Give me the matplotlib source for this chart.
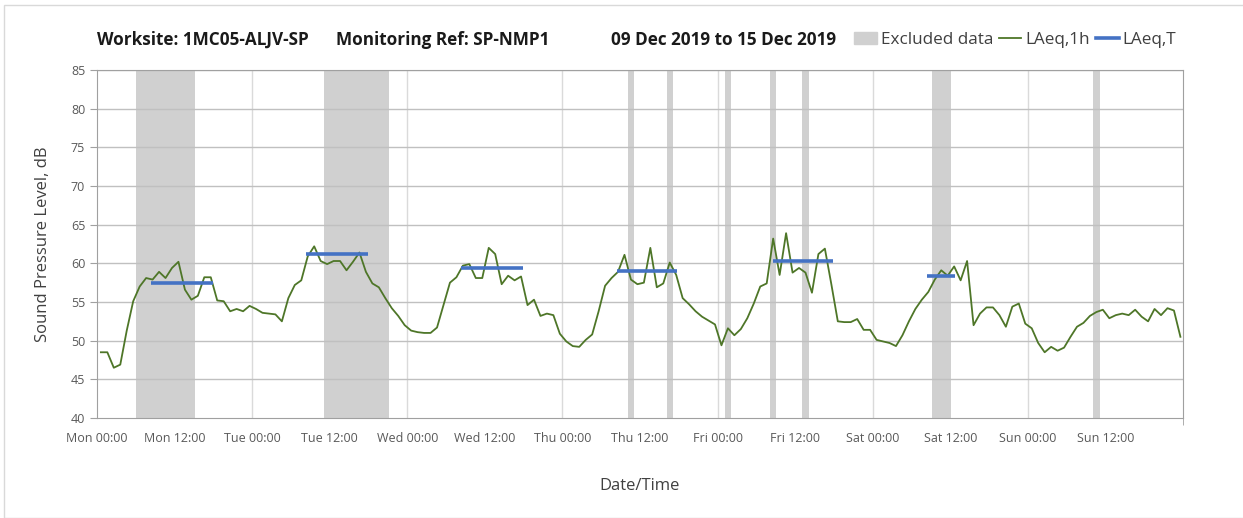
import numpy as np
import matplotlib.pyplot as plt
from matplotlib.patches import Patch, Rectangle
from matplotlib.lines import Line2D

plt.rcParams['font.family'] = ['Open Sans', 'DejaVu Sans']

# Hourly LAeq,1h (dB), Mon 00:00 .. Sun 23:00
laeq_1h = [
    48.5, 48.5, 46.5, 46.9, 51.3, 55.1, 57.0, 58.1, 57.9, 58.9, 58.1, 59.4,  # Mon
    60.2, 56.6, 55.3, 55.8, 58.2, 58.2, 55.2, 55.1, 53.8, 54.1, 53.8, 54.5,
    54.1, 53.6, 53.5, 53.4, 52.5, 55.5, 57.2, 57.8, 60.9, 62.2, 60.3, 59.9,  # Tue
    60.3, 60.3, 59.1, 60.2, 61.4, 58.9, 57.4, 56.9, 55.5, 54.2, 53.2, 52.0,
    51.3, 51.1, 51.0, 51.0, 51.7, 54.6, 57.5, 58.2, 59.7, 59.9, 58.1, 58.1,  # Wed
    62.0, 61.2, 57.3, 58.4, 57.8, 58.3, 54.6, 55.3, 53.2, 53.5, 53.3, 50.9,
    49.9, 49.3, 49.2, 50.1, 50.8, 53.8, 57.1, 58.1, 58.9, 61.1, 57.9, 57.3,  # Thu
    57.5, 62.0, 56.9, 57.4, 60.1, 58.5, 55.5, 54.7, 53.8, 53.1, 52.6, 52.1,
    49.4, 51.6, 50.7, 51.5, 52.9, 54.8, 57.0, 57.4, 63.2, 58.5, 63.9, 58.8,  # Fri
    59.4, 58.8, 56.2, 61.2, 61.9, 57.3, 52.5, 52.4, 52.4, 52.8, 51.4, 51.4,
    50.1, 49.9, 49.7, 49.3, 50.7, 52.5, 54.1, 55.3, 56.3, 57.9, 59.1, 58.4,  # Sat
    59.6, 57.8, 60.3, 52.0, 53.5, 54.3, 54.3, 53.3, 51.8, 54.4, 54.8, 52.2,
    51.6, 49.7, 48.5, 49.2, 48.7, 49.1, 50.5, 51.8, 52.3, 53.2, 53.7, 54.0,  # Sun
    52.9, 53.3, 53.5, 53.3, 54.0, 53.1, 52.5, 54.1, 53.3, 54.2, 53.9, 50.5,
]

# hours (from Mon 00:00) flagged as excluded
excluded_hours = [6, 7, 8, 9, 10, 11, 12, 13, 14,
                  35, 36, 37, 38, 39, 40, 41, 42, 43, 44,
                  82, 88, 97, 104, 109, 129, 130, 131, 154]

# LAeq,T periods (start/end hour) and levels
laeq_t_start = [8.4, 32.4, 56.3, 80.4, 104.5, 128.4]
laeq_t_end = [17.9, 41.9, 65.9, 89.8, 113.8, 132.8]
laeq_t = [57.5, 61.2, 59.4, 59.05, 60.35, 58.3]

days = ['Mon', 'Tue', 'Wed', 'Thu', 'Fri', 'Sat', 'Sun']
tick_labels = [f'{d} {t}' for d in days for t in ('00:00', '12:00')]

hours = np.arange(len(laeq_1h)) + 0.6  # hour-ending sample position

fig = plt.figure(figsize=(12.43, 5.18), dpi=100)
ax = fig.add_axes([97 / 1243, 1 - 418 / 518, (1183 - 97) / 1243, (418 - 70) / 518])

ax.bar(np.array(excluded_hours) + 0.6, [45] * len(excluded_hours), width=1.0,
       bottom=40, color='#d0d0d0', zorder=1)
ax.plot(hours, laeq_1h, color='#4e7628', lw=1.3, zorder=3)
ax.hlines(laeq_t, laeq_t_start, laeq_t_end, color='#4472c4', lw=2.6, zorder=4)

ax.set_xlim(0, 168)
ax.set_ylim(40, 85)
ax.set_yticks(range(40, 86, 5))
ax.set_xticks(range(0, 168, 12))
ax.set_xticklabels(tick_labels)
ax.set_xticks(range(0, 169, 12), minor=True)
ax.tick_params(axis='x', which='major', length=0, labelsize=9, colors='#595959', pad=10)
ax.tick_params(axis='x', which='minor', length=5, color='#a0a0a0', direction='out')
ax.tick_params(axis='y', length=5, color='#a0a0a0', labelsize=9, colors='#595959')
for y in range(45, 86, 5):
    ax.axhline(y, color='#c0c0c0', lw=1.0, zorder=2)
for x in range(24, 168, 24):
    ax.axvline(x, color='#dadada', lw=1.0, zorder=0.5)
for s in ax.spines.values():
    s.set_color('#a0a0a0')

ax.set_ylabel('Sound Pressure Level, dB', fontsize=12, color='#404040', labelpad=14)
ax.set_xlabel('Date/Time', fontsize=12, color='#404040', labelpad=24)

ty = 1 - 40 / 518
fig.text(97 / 1243, ty, 'Worksite: 1MC05-ALJV-SP', fontsize=12.3, fontweight='bold', va='center', color='#1a1a1a')
fig.text(336 / 1243, ty, 'Monitoring Ref: SP-NMP1', fontsize=12.3, fontweight='bold', va='center', color='#1a1a1a')
fig.text(836 / 1243, ty, '09 Dec 2019 to 15 Dec 2019', fontsize=12.3, fontweight='bold', va='center',
         ha='right', color='#1a1a1a')

handles = [Patch(color='#d0d0d0'), Line2D([], [], color='#4e7628', lw=1.3),
           Line2D([], [], color='#4472c4', lw=2.6)]
fig.legend(handles, ['Excluded data', 'LAeq,1h', 'LAeq,T'], ncol=3, frameon=False,
           loc='center right', bbox_to_anchor=(1185 / 1243, ty), fontsize=12.3,
           handlelength=1.3, handletextpad=0.25, columnspacing=0.35, borderpad=0,
           labelcolor='#404040')

fig.patches.append(Rectangle((4 / 1243, 0), 1, 1 - 5 / 518, transform=fig.transFigure,
                             fill=False, edgecolor='#d9d9d9', lw=1))

fig.savefig('out.png', dpi=100)
